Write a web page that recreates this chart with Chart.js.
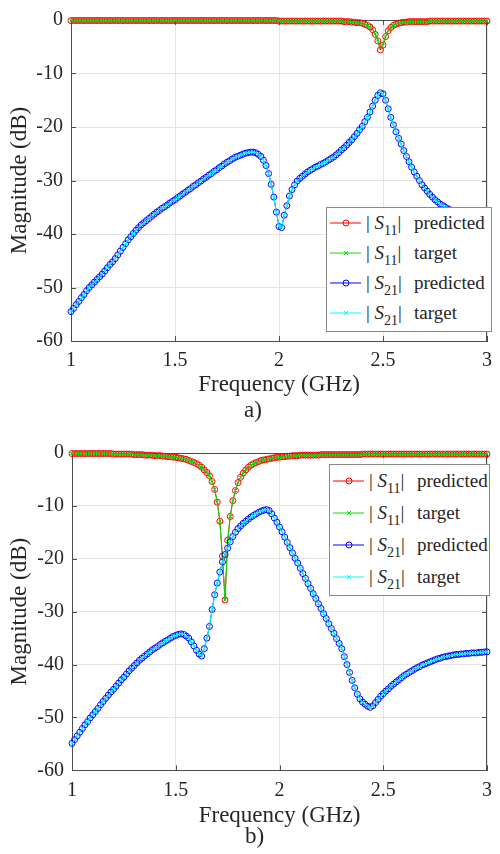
<!DOCTYPE html>
<html><head><meta charset="utf-8">
<script src="https://cdn.jsdelivr.net/npm/chart.js@4.4.1/dist/chart.umd.min.js"></script>
<style>
html,body{margin:0;padding:0;background:#fff;}
#wrap{position:relative;width:500px;height:854px;overflow:hidden;font-family:'Liberation Serif',serif;color:#262626;}
canvas{position:absolute;left:0;}
.cap{position:absolute;font-size:23px;line-height:23px;white-space:nowrap;font-family:'Liberation Serif',serif;}
.legend{position:absolute;background:#fff;border:1px solid #8a8a8a;box-sizing:border-box;font-family:'Liberation Serif',serif;}
.row{position:absolute;left:0;width:100%;}
.row svg{position:absolute;left:3px;top:0;}
.sym{position:absolute;left:39px;font-size:19px;white-space:nowrap;}
.sym i{font-style:italic;}
.sym .sb{font-size:14px;position:relative;top:6px;}
.word{position:absolute;left:87px;font-size:19px;white-space:nowrap;}
</style></head>
<body><div id="wrap">
<canvas id="ca" width="500" height="400" style="top:0px"></canvas>
<canvas id="cb" width="500" height="400" style="top:433px"></canvas>
<div class="cap" style="left:244px;top:398px">a)</div>
<div class="cap" style="left:245px;top:824px">b)</div>
<div class="legend" id="lga" style="left:326px;top:207px;width:166px;height:125px"></div>
<div class="legend" id="lgb" style="left:329px;top:464px;width:161px;height:132px"></div>
</div>
<script>
// ---------- data ----------
const freq = [
1,1.0125,1.025,1.0375,1.05,1.0625,1.075,1.0875,
1.1,1.1125,1.125,1.1375,1.15,1.1625,1.175,1.1875,
1.2,1.2125,1.225,1.2375,1.25,1.2625,1.275,1.2875,
1.3,1.3125,1.325,1.3375,1.35,1.3625,1.375,1.3875,
1.4,1.4125,1.425,1.4375,1.45,1.4625,1.475,1.4875,
1.5,1.5125,1.525,1.5375,1.55,1.5625,1.575,1.5875,
1.6,1.6125,1.625,1.6375,1.65,1.6625,1.675,1.6875,
1.7,1.7125,1.725,1.7375,1.75,1.7625,1.775,1.7875,
1.8,1.8125,1.825,1.8375,1.85,1.8625,1.875,1.8875,
1.9,1.9125,1.925,1.9375,1.95,1.9625,1.975,1.9875,
2,2.0125,2.025,2.0375,2.05,2.0625,2.075,2.0875,
2.1,2.1125,2.125,2.1375,2.15,2.1625,2.175,2.1875,
2.2,2.2125,2.225,2.2375,2.25,2.2625,2.275,2.2875,
2.3,2.3125,2.325,2.3375,2.35,2.3625,2.375,2.3875,
2.4,2.4125,2.425,2.4375,2.45,2.4625,2.475,2.4875,
2.5,2.5125,2.525,2.5375,2.55,2.5625,2.575,2.5875,
2.6,2.6125,2.625,2.6375,2.65,2.6625,2.675,2.6875,
2.7,2.7125,2.725,2.7375,2.75,2.7625,2.775,2.7875,
2.8,2.8125,2.825,2.8375,2.85,2.8625,2.875,2.8875,
2.9,2.9125,2.925,2.9375,2.95,2.9625,2.975,2.9875,
3];

const xTickLabels = [1, 1.5, 2, 2.5, 3];
const yTickLabels = [0, -10, -20, -30, -40, -50, -60];
const legendNames = ['predicted', 'target', 'predicted', 'target'];
const legendSubs = ['11', '11', '21', '21'];

// (a) |S11|
const aS11Pred = [
-0.1,-0.1,-0.1,-0.1,-0.1,-0.1,-0.1,-0.1,
-0.1,-0.1,-0.1,-0.1,-0.1,-0.1,-0.1,-0.1,
-0.1,-0.1,-0.1,-0.1,-0.1,-0.1,-0.1,-0.1,
-0.1,-0.1,-0.1,-0.1,-0.1,-0.1,-0.1,-0.1,
-0.1,-0.1,-0.1,-0.1,-0.1,-0.1,-0.1,-0.1,
-0.1,-0.1,-0.1,-0.1,-0.1,-0.1,-0.1,-0.1,
-0.1,-0.1,-0.1,-0.1,-0.1,-0.1,-0.1,-0.1,
-0.1,-0.1,-0.1,-0.1,-0.1,-0.1,-0.1,-0.1,
-0.1,-0.1,-0.1,-0.1,-0.1,-0.1,-0.1,-0.1,
-0.1,-0.1,-0.1,-0.1,-0.1,-0.1,-0.1,-0.1,
-0.2,-0.2,-0.2,-0.2,-0.2,-0.2,-0.2,-0.2,
-0.2,-0.2,-0.2,-0.2,-0.2,-0.2,-0.2,-0.2,
-0.2,-0.2,-0.2,-0.2,-0.2,-0.2,-0.2,-0.2,
-0.2,-0.3,-0.3,-0.3,-0.4,-0.4,-0.5,-0.5,
-0.6,-0.8,-1.0,-1.3,-1.8,-2.7,-3.9,-5.6,
-4.7,-3.1,-2.0,-1.4,-1.0,-0.8,-0.6,-0.5,
-0.4,-0.4,-0.3,-0.3,-0.3,-0.3,-0.3,-0.3,
-0.3,-0.3,-0.2,-0.2,-0.2,-0.2,-0.2,-0.2,
-0.2,-0.2,-0.2,-0.2,-0.2,-0.2,-0.2,-0.2,
-0.2,-0.2,-0.2,-0.2,-0.2,-0.2,-0.2,-0.2,
-0.2];
const aS11Target = [
-0.1,-0.1,-0.1,-0.1,-0.1,-0.1,-0.1,-0.1,
-0.1,-0.1,-0.1,-0.1,-0.1,-0.1,-0.1,-0.1,
-0.1,-0.1,-0.1,-0.1,-0.1,-0.1,-0.1,-0.1,
-0.1,-0.1,-0.1,-0.1,-0.1,-0.1,-0.1,-0.1,
-0.1,-0.1,-0.1,-0.1,-0.1,-0.1,-0.1,-0.1,
-0.1,-0.1,-0.1,-0.1,-0.1,-0.1,-0.1,-0.1,
-0.1,-0.1,-0.1,-0.1,-0.1,-0.1,-0.1,-0.1,
-0.1,-0.1,-0.1,-0.1,-0.1,-0.1,-0.1,-0.1,
-0.1,-0.1,-0.1,-0.1,-0.1,-0.1,-0.1,-0.1,
-0.1,-0.1,-0.1,-0.1,-0.1,-0.1,-0.1,-0.1,
-0.2,-0.2,-0.2,-0.2,-0.2,-0.2,-0.2,-0.2,
-0.2,-0.2,-0.2,-0.2,-0.2,-0.2,-0.2,-0.2,
-0.2,-0.2,-0.2,-0.2,-0.2,-0.2,-0.2,-0.2,
-0.2,-0.3,-0.3,-0.3,-0.4,-0.4,-0.5,-0.5,
-0.6,-0.8,-1.0,-1.3,-1.8,-2.6,-3.7,-5.2,
-4.4,-3.0,-2.0,-1.4,-1.0,-0.8,-0.6,-0.5,
-0.4,-0.4,-0.3,-0.3,-0.3,-0.3,-0.3,-0.3,
-0.3,-0.3,-0.2,-0.2,-0.2,-0.2,-0.2,-0.2,
-0.2,-0.2,-0.2,-0.2,-0.2,-0.2,-0.2,-0.2,
-0.2,-0.2,-0.2,-0.2,-0.2,-0.2,-0.2,-0.2,
-0.2];
// (a) |S21|
const aS21Pred = [
-54.5,-53.9,-53.2,-52.6,-51.9,-51.3,-50.6,-50.0,
-49.5,-49.0,-48.5,-48.0,-47.5,-46.9,-46.3,-45.7,
-45.2,-44.6,-43.9,-43.2,-42.5,-41.8,-41.1,-40.5,
-39.9,-39.3,-38.8,-38.3,-37.9,-37.5,-37.1,-36.7,
-36.3,-35.9,-35.6,-35.2,-34.9,-34.6,-34.2,-33.9,
-33.6,-33.2,-32.9,-32.5,-32.2,-31.8,-31.5,-31.1,
-30.8,-30.4,-30.1,-29.7,-29.4,-29.0,-28.7,-28.3,
-28.0,-27.6,-27.3,-26.9,-26.6,-26.3,-26.0,-25.7,
-25.5,-25.3,-25.1,-24.9,-24.8,-24.7,-24.7,-24.8,
-25.1,-25.5,-26.2,-27.2,-28.7,-30.7,-33.1,-35.9,
-38.6,-38.8,-36.5,-34.7,-32.9,-31.7,-30.8,-30.1,
-29.6,-29.2,-28.8,-28.4,-28.1,-27.8,-27.5,-27.3,
-27.0,-26.8,-26.5,-26.2,-25.9,-25.6,-25.2,-24.8,
-24.3,-23.9,-23.4,-22.9,-22.4,-21.8,-21.2,-20.5,
-19.9,-19.0,-18.2,-17.2,-16.1,-15.0,-14.1,-13.6,
-13.8,-15.0,-16.6,-18.2,-19.6,-20.9,-22.1,-23.2,
-24.4,-25.5,-26.5,-27.5,-28.4,-29.2,-30.0,-30.8,
-31.4,-32.0,-32.6,-33.1,-33.6,-34.0,-34.4,-34.7,
-35.0,-35.3,-35.5,-35.7,-35.8,-35.9,-36.0,-36.0,
-36.1,-36.1,-36.1,-36.2,-36.2,-36.2,-36.2,-36.2,
-36.2];
const aS21Target = [
-54.5,-53.9,-53.2,-52.6,-51.9,-51.3,-50.6,-50.0,
-49.5,-49.0,-48.5,-48.0,-47.5,-46.9,-46.3,-45.7,
-45.2,-44.6,-43.9,-43.2,-42.5,-41.8,-41.1,-40.5,
-39.9,-39.3,-38.8,-38.3,-37.9,-37.5,-37.1,-36.7,
-36.3,-35.9,-35.6,-35.2,-34.9,-34.6,-34.2,-33.9,
-33.6,-33.2,-32.9,-32.5,-32.2,-31.8,-31.5,-31.1,
-30.8,-30.4,-30.1,-29.7,-29.4,-29.0,-28.7,-28.3,
-28.0,-27.6,-27.3,-26.9,-26.6,-26.3,-26.0,-25.7,
-25.5,-25.3,-25.1,-24.9,-24.8,-24.7,-24.7,-24.8,
-25.1,-25.5,-26.2,-27.2,-28.7,-30.7,-33.1,-35.9,
-38.5,-38.7,-36.5,-34.7,-32.9,-31.7,-30.8,-30.1,
-29.6,-29.2,-28.8,-28.4,-28.1,-27.8,-27.5,-27.3,
-27.0,-26.8,-26.5,-26.2,-25.9,-25.6,-25.2,-24.8,
-24.3,-23.9,-23.4,-22.9,-22.4,-21.8,-21.2,-20.5,
-19.9,-19.0,-18.2,-17.2,-16.1,-15.0,-14.1,-13.5,
-13.8,-15.0,-16.6,-18.2,-19.6,-20.9,-22.1,-23.2,
-24.4,-25.5,-26.5,-27.5,-28.4,-29.2,-30.0,-30.8,
-31.4,-32.0,-32.6,-33.1,-33.6,-34.0,-34.4,-34.7,
-35.0,-35.3,-35.5,-35.7,-35.8,-35.9,-36.0,-36.0,
-36.1,-36.1,-36.1,-36.2,-36.2,-36.2,-36.2,-36.2,
-36.2];

// (b) |S11|
const bS11Pred = [
-0.1,-0.1,-0.1,-0.1,-0.1,-0.1,-0.1,-0.1,
-0.1,-0.1,-0.1,-0.1,-0.1,-0.1,-0.1,-0.1,
-0.2,-0.2,-0.2,-0.2,-0.2,-0.2,-0.2,-0.2,
-0.3,-0.3,-0.3,-0.3,-0.4,-0.4,-0.4,-0.4,
-0.5,-0.5,-0.5,-0.6,-0.6,-0.7,-0.7,-0.8,
-0.8,-0.9,-1.0,-1.1,-1.2,-1.4,-1.6,-1.8,
-2.0,-2.3,-2.7,-3.2,-3.7,-4.3,-5.4,-6.9,
-9.3,-12.9,-19.5,-27.8,-16.5,-12.0,-9.0,-7.1,
-5.6,-4.6,-3.8,-3.2,-2.7,-2.3,-2.0,-1.8,
-1.6,-1.4,-1.3,-1.2,-1.1,-1.0,-0.9,-0.8,
-0.8,-0.7,-0.7,-0.6,-0.6,-0.5,-0.5,-0.5,
-0.4,-0.4,-0.4,-0.4,-0.4,-0.4,-0.4,-0.4,
-0.3,-0.3,-0.3,-0.3,-0.3,-0.3,-0.3,-0.3,
-0.3,-0.3,-0.3,-0.3,-0.3,-0.3,-0.3,-0.3,
-0.2,-0.2,-0.2,-0.2,-0.2,-0.2,-0.2,-0.2,
-0.2,-0.2,-0.2,-0.2,-0.2,-0.2,-0.2,-0.2,
-0.2,-0.2,-0.2,-0.2,-0.2,-0.2,-0.2,-0.2,
-0.2,-0.2,-0.2,-0.2,-0.2,-0.2,-0.2,-0.2,
-0.2,-0.2,-0.2,-0.2,-0.2,-0.2,-0.2,-0.2,
-0.2,-0.2,-0.2,-0.2,-0.2,-0.2,-0.2,-0.2,
-0.2];
const bS11Target = [
-0.1,-0.1,-0.1,-0.1,-0.1,-0.1,-0.1,-0.1,
-0.1,-0.1,-0.1,-0.1,-0.1,-0.1,-0.1,-0.1,
-0.2,-0.2,-0.2,-0.2,-0.2,-0.2,-0.2,-0.2,
-0.3,-0.3,-0.3,-0.3,-0.4,-0.4,-0.4,-0.4,
-0.5,-0.5,-0.5,-0.6,-0.6,-0.7,-0.7,-0.8,
-0.8,-0.9,-1.0,-1.1,-1.2,-1.4,-1.6,-1.8,
-2.0,-2.3,-2.7,-3.2,-3.7,-4.3,-5.4,-6.9,
-9.3,-12.9,-19.8,-27.8,-16.7,-12.0,-9.0,-7.1,
-5.6,-4.6,-3.8,-3.2,-2.7,-2.3,-2.0,-1.8,
-1.6,-1.4,-1.3,-1.2,-1.1,-1.0,-0.9,-0.8,
-0.8,-0.7,-0.7,-0.6,-0.6,-0.5,-0.5,-0.5,
-0.4,-0.4,-0.4,-0.4,-0.4,-0.4,-0.4,-0.4,
-0.3,-0.3,-0.3,-0.3,-0.3,-0.3,-0.3,-0.3,
-0.3,-0.3,-0.3,-0.3,-0.3,-0.3,-0.3,-0.3,
-0.2,-0.2,-0.2,-0.2,-0.2,-0.2,-0.2,-0.2,
-0.2,-0.2,-0.2,-0.2,-0.2,-0.2,-0.2,-0.2,
-0.2,-0.2,-0.2,-0.2,-0.2,-0.2,-0.2,-0.2,
-0.2,-0.2,-0.2,-0.2,-0.2,-0.2,-0.2,-0.2,
-0.2,-0.2,-0.2,-0.2,-0.2,-0.2,-0.2,-0.2,
-0.2,-0.2,-0.2,-0.2,-0.2,-0.2,-0.2,-0.2,
-0.2];
// (b) |S21|
const bS21Pred = [
-54.9,-54.2,-53.5,-52.8,-52.1,-51.4,-50.8,-50.1,
-49.5,-48.9,-48.3,-47.6,-47.0,-46.4,-45.8,-45.2,
-44.7,-44.1,-43.5,-42.9,-42.4,-41.8,-41.2,-40.7,
-40.2,-39.7,-39.2,-38.8,-38.4,-38.0,-37.6,-37.2,
-36.9,-36.6,-36.2,-35.9,-35.6,-35.3,-35.0,-34.7,
-34.5,-34.3,-34.2,-34.3,-34.6,-35.0,-35.7,-36.5,
-37.3,-38.0,-38.4,-37.0,-35.0,-32.8,-29.6,-26.8,
-24.6,-22.5,-20.6,-19.2,-18.0,-16.8,-15.8,-15.0,
-14.3,-13.8,-13.3,-12.9,-12.5,-12.1,-11.8,-11.5,
-11.2,-11.0,-10.8,-10.7,-10.9,-11.5,-12.3,-13.1,
-14.0,-14.9,-15.9,-16.9,-17.9,-18.9,-19.9,-20.8,
-21.8,-22.8,-23.7,-24.7,-25.6,-26.6,-27.5,-28.5,
-29.4,-30.4,-31.3,-32.3,-33.2,-34.1,-35.1,-36.0,
-37.0,-38.5,-40.0,-41.5,-43.0,-44.4,-45.6,-46.5,
-47.1,-47.5,-47.9,-48.1,-47.8,-47.2,-46.6,-46.0,
-45.5,-45.0,-44.6,-44.1,-43.7,-43.3,-42.9,-42.5,
-42.1,-41.8,-41.5,-41.2,-40.9,-40.6,-40.4,-40.1,
-39.9,-39.7,-39.5,-39.3,-39.1,-38.9,-38.8,-38.6,
-38.5,-38.4,-38.3,-38.2,-38.1,-38.1,-38.0,-38.0,
-37.9,-37.9,-37.8,-37.8,-37.8,-37.7,-37.7,-37.6,
-37.6];
const bS21Target = [
-54.9,-54.2,-53.5,-52.8,-52.1,-51.4,-50.8,-50.1,
-49.5,-48.9,-48.3,-47.6,-47.0,-46.4,-45.8,-45.2,
-44.7,-44.1,-43.5,-42.9,-42.4,-41.8,-41.2,-40.7,
-40.2,-39.7,-39.2,-38.8,-38.4,-38.0,-37.6,-37.2,
-36.9,-36.6,-36.2,-35.9,-35.6,-35.3,-35.0,-34.7,
-34.5,-34.3,-34.2,-34.3,-34.6,-35.0,-35.7,-36.5,
-37.3,-38.0,-38.4,-37.0,-35.0,-32.8,-29.6,-26.8,
-24.6,-22.5,-20.6,-19.2,-18.0,-16.8,-15.8,-15.0,
-14.3,-13.8,-13.3,-12.9,-12.5,-12.1,-11.8,-11.5,
-11.2,-11.0,-10.8,-10.7,-10.9,-11.5,-12.3,-13.1,
-14.0,-14.9,-15.9,-16.9,-17.9,-18.9,-19.9,-20.8,
-21.8,-22.8,-23.7,-24.7,-25.6,-26.6,-27.5,-28.5,
-29.4,-30.4,-31.3,-32.3,-33.2,-34.1,-35.1,-36.0,
-37.0,-38.5,-40.0,-41.5,-43.0,-44.4,-45.6,-46.5,
-47.1,-47.5,-47.9,-48.1,-47.8,-47.2,-46.6,-46.0,
-45.5,-45.0,-44.6,-44.1,-43.7,-43.3,-42.9,-42.5,
-42.1,-41.8,-41.5,-41.2,-40.9,-40.6,-40.4,-40.1,
-39.9,-39.7,-39.5,-39.3,-39.1,-38.9,-38.8,-38.6,
-38.5,-38.4,-38.3,-38.2,-38.1,-38.1,-38.0,-38.0,
-37.9,-37.9,-37.8,-37.8,-37.8,-37.7,-37.7,-37.6,
-37.6];

// ---------- styles ----------
const COLORS = ['#ff0000', '#00e000', '#0000ff', '#00ffff'];
const MARKERS = ['circle', 'crossRot', 'circle', 'crossRot'];
const AXIS_COLOR = '#4d4d4d';
const TEXT_COLOR = '#262626';
const GRID_COLOR = '#e4e4e4';
const TICK_LEN = 5;
const FONT_STACK = "'Liberation Serif', serif";

Chart.defaults.font.family = FONT_STACK;
Chart.defaults.color = TEXT_COLOR;

function pts(ys) { return freq.map((f, i) => ({x: f, y: ys[i]})); }

const boxPlugin = {
  id: 'boxTicks',
  beforeDatasetsDraw(chart) {
    const {ctx, chartArea: {left, right, top, bottom}, scales: {x, y}} = chart;
    ctx.save();
    ctx.strokeStyle = AXIS_COLOR;
    ctx.lineWidth = 1;
    ctx.beginPath();
    ctx.moveTo(left, Math.round(top) + 0.5); ctx.lineTo(right, Math.round(top) + 0.5);
    ctx.moveTo(Math.round(right) - 0.5, top); ctx.lineTo(Math.round(right) - 0.5, bottom);
    x.ticks.forEach(t => {
      const px = Math.round(x.getPixelForValue(t.value)) + 0.5;
      ctx.moveTo(px, bottom); ctx.lineTo(px, bottom - TICK_LEN);
      ctx.moveTo(px, top); ctx.lineTo(px, top + TICK_LEN);
    });
    y.ticks.forEach(t => {
      const py = Math.round(y.getPixelForValue(t.value)) + 0.5;
      ctx.moveTo(left, py); ctx.lineTo(left + TICK_LEN, py);
      ctx.moveTo(right, py); ctx.lineTo(right - TICK_LEN, py);
    });
    ctx.stroke();
    ctx.restore();
  }
};

function makeChart(id, s11p, s11t, s21p, s21t, g) {
  const series = [s11p, s11t, s21p, s21t];
  const datasets = series.map((s, i) => ({
    label: (i < 2 ? '|S11| ' : '|S21| ') + legendNames[i],
    data: pts(s),
    borderColor: COLORS[i],
    backgroundColor: 'rgba(0,0,0,0)',
    borderWidth: 1,
    pointStyle: MARKERS[i],
    pointRadius: MARKERS[i] === 'circle' ? 3 : 2.2,
    pointBorderWidth: 1,
    pointBorderColor: COLORS[i],
    pointBackgroundColor: 'rgba(0,0,0,0)',
    tension: 0,
    clip: 8,
    order: 4 - i
  }));
  return new Chart(document.getElementById(id), {
    type: 'line',
    data: {datasets},
    options: {
      responsive: false,
      animation: false,
      events: [],
      font: {family: FONT_STACK},
      layout: {padding: {top: g.top, right: g.right, bottom: g.bottom, left: 0}},
      plugins: {legend: {display: false}, tooltip: {enabled: false}},
      scales: {
        x: {
          type: 'linear', min: 1, max: 3,
          afterBuildTicks: s => { s.ticks = xTickLabels.map(v => ({value: v})); },
          afterFit: s => { s.height = g.xh; },
          grid: {color: GRID_COLOR, drawTicks: false, lineWidth: 1},
          border: {display: true, color: AXIS_COLOR, width: 1},
          ticks: {font: {size: 20, family: FONT_STACK}, padding: 8, color: TEXT_COLOR, maxRotation: 0,
                  callback: v => String(v)},
          title: {display: true, text: 'Frequency (GHz)', font: {size: 23, family: FONT_STACK}, color: TEXT_COLOR,
                  padding: {top: 0, bottom: 0}}
        },
        y: {
          type: 'linear', min: -60, max: 0,
          afterBuildTicks: s => { s.ticks = yTickLabels.map(v => ({value: v})); },
          afterFit: s => { s.width = g.yw; },
          grid: {color: GRID_COLOR, drawTicks: false, lineWidth: 1},
          border: {display: true, color: AXIS_COLOR, width: 1},
          ticks: {font: {size: 20, family: FONT_STACK}, padding: 8, color: TEXT_COLOR, callback: v => String(v)},
          title: {display: true, text: 'Magnitude (dB)', font: {size: 23, family: FONT_STACK}, color: TEXT_COLOR,
                  padding: {top: 6, bottom: 0}}
        }
      }
    },
    plugins: [boxPlugin]
  });
}

makeChart('ca', aS11Pred, aS11Target, aS21Pred, aS21Target,
  {top: 13, right: 3, bottom: 1, xh: 58, yw: 71});
makeChart('cb', bS11Pred, bS11Target, bS21Pred, bS21Target,
  {top: 13, right: 5, bottom: 3.5, xh: 59.2, yw: 72});

// ---------- legends ----------
function buildLegend(id, rowH) {
  const box = document.getElementById(id);
  for (let i = 0; i < 4; i++) {
    const row = document.createElement('div');
    row.className = 'row';
    row.style.top = (i * rowH) + 'px';
    row.style.height = rowH + 'px';
    row.style.lineHeight = rowH + 'px';
    const c = COLORS[i], mid = rowH / 2;
    const mk = MARKERS[i] === 'circle'
      ? `<circle cx="16" cy="${mid}" r="3" fill="none" stroke="${c}" stroke-width="1"/>`
      : `<path d="M14 ${mid-2}L18 ${mid+2}M14 ${mid+2}L18 ${mid-2}" stroke="${c}" stroke-width="1"/>`;
    row.innerHTML =
      `<svg width="31" height="${rowH}"><line x1="0" y1="${mid}" x2="31" y2="${mid}" stroke="${c}" stroke-width="1"/>${mk}</svg>` +
      `<span class="sym">| <i>S</i><span class="sb">${legendSubs[i]}</span>|</span>` +
      `<span class="word">${legendNames[i]}</span>`;
    box.appendChild(row);
  }
}
buildLegend('lga', 30);
buildLegend('lgb', 32);
</script>
</body></html>
